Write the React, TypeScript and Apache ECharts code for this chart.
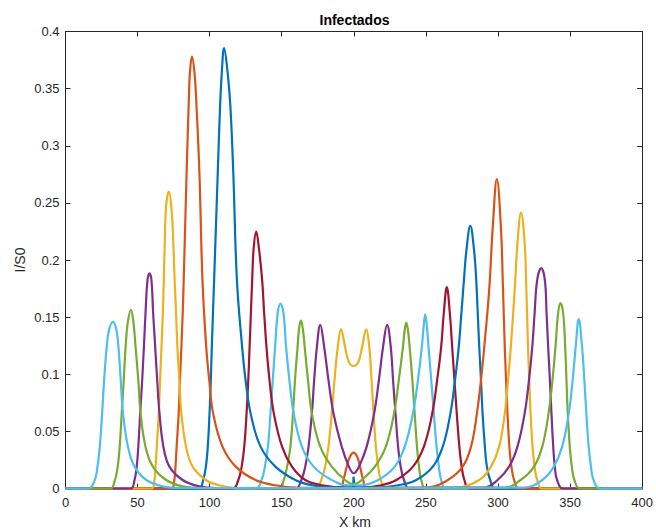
import React, { useEffect, useRef } from "react";
import * as echarts from "echarts";

// MATLAB default colour order
const colorOrder = ["#0072BD", "#D95319", "#EDB120", "#7E2F8E", "#77AC30", "#4DBEEE", "#A2142F"];

const xTicks = [0, 50, 100, 150, 200, 250, 300, 350, 400];
const yTicks = [0, 0.05, 0.1, 0.15, 0.2, 0.25, 0.3, 0.35, 0.4];

// Each snapshot: [x km, I/S0]
const snap1: number[][] = [[0, 0], [199.5, 0], [199.8, 0.0105], [200.2, 0.0105], [200.5, 0], [400, 0]];
const snap2: number[][] = [[0, 0], [190.5, 0], [192.8, 0.0076], [195.1, 0.0193], [197.3, 0.028], [199.8, 0.0315], [202.3, 0.028], [204.3, 0.0193], [206.5, 0.0076], [208.9, 0], [400, 0]];
const snap3: number[][] = [[0, 0], [173.5, 0], [177.4, 0.0076], [180.1, 0.0193], [182.4, 0.0368], [184.7, 0.0659], [186.6, 0.0951], [188.9, 0.1243], [191.1, 0.1395], [193.9, 0.1243], [196.5, 0.111], [199.8, 0.1074], [203.2, 0.111], [205.8, 0.1243], [208.6, 0.1395], [210.7, 0.1243], [212.3, 0.0951], [213.7, 0.0659], [215.3, 0.0368], [216.9, 0.0193], [218.7, 0.0076], [222.6, 0], [400, 0]];
const snap4: number[][] = [[0, 0], [159.4, 0], [163.6, 0.0076], [166.3, 0.0193], [168.6, 0.0368], [170.9, 0.0659], [172.5, 0.0951], [174.4, 0.1243], [176.7, 0.1433], [179.4, 0.1243], [182.4, 0.0951], [185.9, 0.0659], [191.6, 0.0368], [196.6, 0.0193], [200, 0.0135], [203.6, 0.0193], [208.9, 0.0368], [214.1, 0.0659], [217.4, 0.0951], [220.3, 0.1243], [223.1, 0.1433], [225.6, 0.1243], [227.2, 0.0951], [228.9, 0.0659], [230.7, 0.0368], [232.5, 0.0193], [234.8, 0.0076], [238.7, 0], [400, 0]];
const snap5: number[][] = [[0, 0], [148, 0], [151.4, 0.0076], [153.7, 0.0193], [156.0, 0.0368], [157.8, 0.0659], [159.2, 0.0951], [161.0, 0.1243], [162.0, 0.140], [163.3, 0.147], [164.6, 0.140], [165.9, 0.1243], [168.2, 0.0951], [170.9, 0.0659], [176.7, 0.0368], [184.7, 0.0193], [194, 0.0076], [200, 0.004], [205.4, 0.0076], [214.6, 0.0193], [222.2, 0.0368], [227.9, 0.0659], [231.2, 0.0951], [234.1, 0.1243], [235.2, 0.138], [236.4, 0.1453], [237.6, 0.138], [238.7, 0.1243], [240.6, 0.0951], [242.2, 0.0659], [243.8, 0.0368], [245.2, 0.0193], [246.8, 0.0076], [250.2, 0], [400, 0]];
const snap6: number[][] = [[0, 0], [131.8, 0], [136.0, 0.0076], [138.3, 0.0193], [140.4, 0.0368], [142.2, 0.0659], [143.8, 0.0951], [145.4, 0.1243], [147.2, 0.1535], [149.1, 0.162], [151.2, 0.1535], [153.0, 0.1243], [155.3, 0.0951], [158.3, 0.0659], [164.0, 0.0368], [172.1, 0.0193], [184.7, 0.0076], [196, 0.003], [205, 0.003], [216.9, 0.0076], [228.4, 0.0193], [235.3, 0.0368], [241.0, 0.0659], [244.5, 0.0951], [247.2, 0.1243], [248.5, 0.143], [249.5, 0.1526], [250.6, 0.143], [251.8, 0.1243], [253.7, 0.0951], [255.5, 0.0659], [257.4, 0.0368], [259.0, 0.0193], [260.6, 0.0076], [264.0, 0], [400, 0]];
const snap7: number[][] = [[0, 0], [115.8, 0], [119.9, 0.0076], [122.2, 0.0193], [124.0, 0.0368], [125.6, 0.0659], [126.8, 0.0951], [127.7, 0.1243], [128.6, 0.1535], [129.5, 0.1827], [130.5, 0.210], [132.3, 0.225], [134.2, 0.210], [136.4, 0.1827], [137.8, 0.1535], [139.4, 0.1243], [141.5, 0.0951], [144.5, 0.0659], [150.2, 0.0368], [157.1, 0.0193], [166.3, 0.0076], [177.8, 0.003], [195, 0.001], [205, 0.001], [219, 0.003], [229.5, 0.0076], [241.0, 0.0193], [248.6, 0.0368], [254.4, 0.0659], [257.8, 0.0951], [260.6, 0.1243], [262.4, 0.1535], [264.5, 0.1763], [266.6, 0.1535], [268.2, 0.1243], [269.8, 0.0951], [271.4, 0.0659], [273.2, 0.0368], [274.8, 0.0193], [276.7, 0.0076], [280.1, 0], [400, 0]];
const snap8: number[][] = [[0, 0], [92.5, 0], [95.5, 0.0076], [97.4, 0.0193], [98.7, 0.0368], [99.9, 0.0659], [100.8, 0.0951], [101.5, 0.1243], [103.1, 0.1827], [105.6, 0.276], [107.2, 0.334], [108.4, 0.3636], [110.0, 0.3855], [112.5, 0.3636], [114.4, 0.334], [116.4, 0.276], [118.9, 0.1827], [122.5, 0.1243], [124.9, 0.0951], [128.4, 0.0659], [135.3, 0.0368], [145.6, 0.0193], [159.4, 0.0076], [171, 0.003], [185, 0.001], [215, 0.001], [230.7, 0.003], [243.3, 0.0076], [254.8, 0.0193], [261.7, 0.0368], [267.0, 0.0659], [270.2, 0.0951], [272.8, 0.1243], [274.6, 0.1535], [276.4, 0.1827], [278.0, 0.2074], [280.8, 0.230], [283.5, 0.2074], [284.9, 0.1827], [285.9, 0.155], [287.0, 0.1243], [288.2, 0.0951], [289.3, 0.0659], [290.9, 0.0368], [292.3, 0.0193], [294.6, 0.0076], [298.5, 0], [400, 0]];
const snap9: number[][] = [[0, 0], [73.5, 0], [75.5, 0.0076], [76.3, 0.0193], [77.1, 0.0368], [78.5, 0.0659], [79.4, 0.0951], [80.4, 0.1243], [81.3, 0.1535], [82.0, 0.1827], [84.0, 0.276], [85.4, 0.334], [86.3, 0.3636], [87.7, 0.378], [89.5, 0.3636], [90.9, 0.334], [92.9, 0.276], [95.0, 0.1827], [97.6, 0.1243], [99.7, 0.0951], [102.4, 0.0659], [108.9, 0.0368], [118.1, 0.0193], [131.8, 0.0076], [145.6, 0.003], [160, 0.001], [240, 0.0005], [251.4, 0.001], [265.2, 0.0076], [275.5, 0.0193], [281.3, 0.0368], [285.4, 0.0659], [288.2, 0.0951], [290.5, 0.1243], [293.9, 0.174], [296.4, 0.2293], [299.2, 0.2708], [302.0, 0.2293], [303.4, 0.178], [304.7, 0.1243], [305.6, 0.0951], [306.6, 0.0659], [307.9, 0.0368], [309.3, 0.0193], [311.2, 0.0076], [314.6, 0], [400, 0]];
const snap10: number[][] = [[0, 0], [59.5, 0], [61.7, 0.0076], [62.5, 0.0193], [63.3, 0.0368], [64.7, 0.0659], [65.6, 0.0951], [66.6, 0.1243], [67.5, 0.1535], [68.2, 0.1827], [68.9, 0.2177], [69.8, 0.247], [71.6, 0.260], [73.4, 0.247], [74.7, 0.2177], [75.7, 0.1827], [76.7, 0.1535], [77.6, 0.1243], [79.0, 0.0951], [80.4, 0.0659], [83.6, 0.0368], [88.2, 0.0193], [97.4, 0.0076], [106.6, 0.003], [120, 0.0005], [270, 0.001], [287, 0.0076], [295.1, 0.0193], [300.8, 0.0368], [304.7, 0.0659], [307.0, 0.0951], [308.9, 0.1243], [311.6, 0.174], [313.5, 0.2147], [316.0, 0.2416], [318.5, 0.2147], [319.6, 0.178], [320.8, 0.1243], [321.7, 0.0951], [322.6, 0.0659], [324.0, 0.0368], [325.4, 0.0193], [327.2, 0.0076], [330.7, 0], [400, 0]];
const snap11: number[][] = [[0, 0], [45, 0], [47.9, 0.0076], [49.4, 0.0193], [50.5, 0.0368], [51.8, 0.0659], [53.2, 0.0951], [54.4, 0.1243], [55.5, 0.1535], [56.9, 0.1827], [58.3, 0.1885], [59.6, 0.1827], [60.8, 0.1535], [62.2, 0.1243], [63.6, 0.0951], [65.2, 0.0659], [67.9, 0.0368], [72.1, 0.0193], [81.3, 0.0076], [92.8, 0.002], [105, 0.0005], [290.5, 0.001], [299.7, 0.0076], [307.7, 0.0193], [313.5, 0.0368], [318.5, 0.0659], [321.5, 0.0951], [323.8, 0.1243], [325.4, 0.1535], [327.2, 0.1827], [330.0, 0.1929], [332.5, 0.1827], [333.7, 0.1535], [334.8, 0.1243], [336.0, 0.0951], [337.1, 0.0659], [338.3, 0.0368], [339.4, 0.0193], [341.0, 0.0076], [345.2, 0], [400, 0]];
const snap12: number[][] = [[0, 0], [31, 0], [34.3, 0.0076], [36.2, 0.0193], [37.6, 0.0368], [39.0, 0.0659], [40.4, 0.0951], [41.7, 0.1243], [43.1, 0.1447], [45.4, 0.1565], [47.2, 0.1447], [48.6, 0.1243], [50.5, 0.0951], [52.1, 0.0659], [55.5, 0.0368], [60.6, 0.0193], [69.8, 0.0076], [81.3, 0.002], [95, 0.0005], [304.3, 0.001], [315.7, 0.0076], [325.0, 0.0193], [330.7, 0.0368], [335.1, 0.0659], [337.8, 0.0951], [339.9, 0.1243], [341.7, 0.1535], [343.3, 0.1623], [345.2, 0.1535], [346.6, 0.1243], [347.5, 0.0951], [348.4, 0.0659], [349.8, 0.0368], [351.2, 0.0193], [353.0, 0.0076], [357.1, 0], [400, 0]];
const snap13: number[][] = [[0, 0], [16, 0], [20.3, 0.0076], [22.2, 0.0193], [23.8, 0.0368], [25.4, 0.0659], [26.8, 0.0951], [28.6, 0.1243], [30.2, 0.139], [33.0, 0.146], [35.3, 0.139], [36.7, 0.1243], [38.3, 0.0951], [39.9, 0.0659], [43.3, 0.0368], [47.9, 0.0193], [56.0, 0.0076], [67.5, 0.002], [80, 0.0005], [318, 0.001], [330.7, 0.0076], [338.7, 0.0193], [344.5, 0.0368], [349.1, 0.0659], [351.8, 0.0951], [353.9, 0.1243], [356.0, 0.1483], [358.3, 0.1243], [359.9, 0.0951], [361.3, 0.0659], [362.9, 0.0368], [364.5, 0.0193], [366.3, 0.0076], [370.9, 0], [400, 0]];

const snapshots = [snap1, snap2, snap3, snap4, snap5, snap6, snap7, snap8, snap9, snap10, snap11, snap12, snap13];

const FONT = "'Liberation Sans', Arial, Helvetica, sans-serif";
const AXIS_COLOR = "#262626";

export default function App() {
  const ref = useRef<HTMLDivElement>(null);
  useEffect(() => {
    if (!ref.current) return;
    const chart = echarts.init(ref.current, undefined, { renderer: "svg" });
    const tickFmt = (v: number) => String(+Number(v).toFixed(2));
    const baseX = {
      type: "value" as const,
      min: xTicks[0],
      max: xTicks[xTicks.length - 1],
      interval: xTicks[1] - xTicks[0],
      axisLine: { show: true, onZero: false, lineStyle: { color: AXIS_COLOR, width: 1 } },
      axisTick: { show: true, inside: true, length: 5, lineStyle: { color: AXIS_COLOR } },
      splitLine: { show: false },
    };
    const baseY = {
      type: "value" as const,
      min: yTicks[0],
      max: yTicks[yTicks.length - 1],
      interval: yTicks[1] - yTicks[0],
      axisLine: { show: true, onZero: false, lineStyle: { color: AXIS_COLOR, width: 1 } },
      axisTick: { show: true, inside: true, length: 5, lineStyle: { color: AXIS_COLOR } },
      splitLine: { show: false },
    };
    chart.setOption({
      animation: false,
      backgroundColor: "#ffffff",
      textStyle: { fontFamily: FONT },
      grid: { left: 65.5, right: 11, top: 31.5, bottom: 42.3, containLabel: false },
      xAxis: [
        {
          ...baseX,
          position: "bottom",
          axisLabel: { show: true, color: AXIS_COLOR, fontSize: 13, margin: 7, fontFamily: FONT, formatter: tickFmt },
        },
        { ...baseX, position: "top", axisLabel: { show: false } },
      ],
      yAxis: [
        {
          ...baseY,
          position: "left",
          axisLabel: { show: true, color: AXIS_COLOR, fontSize: 13, margin: 6, fontFamily: FONT, formatter: tickFmt },
        },
        { ...baseY, position: "right", axisLabel: { show: false } },
      ],
      graphic: [
        {
          type: "text",
          x: 354.5,
          y: 20,
          style: { text: "Infectados", fontSize: 14, fontWeight: "bold", fill: "#000000", fontFamily: FONT, textAlign: "center", textVerticalAlign: "middle" },
        },
        {
          type: "text",
          x: 355,
          y: 521.5,
          style: { text: "X km", fontSize: 14, fill: AXIS_COLOR, fontFamily: FONT, textAlign: "center", textVerticalAlign: "middle" },
        },
        {
          type: "text",
          x: 20,
          y: 260,
          rotation: Math.PI / 2,
          style: { text: "I/S0", fontSize: 14, fill: AXIS_COLOR, fontFamily: FONT, textAlign: "center", textVerticalAlign: "middle" },
        },
      ],
      series: snapshots.map((data, i) => ({
        type: "line",
        name: "t" + (i + 1),
        data,
        xAxisIndex: 0,
        yAxisIndex: 0,
        showSymbol: false,
        symbol: "none",
        smooth: i === 0 ? false : 0.4,
        silent: true,
        lineStyle: { width: 2.2, color: colorOrder[i % colorOrder.length] },
        itemStyle: { color: colorOrder[i % colorOrder.length] },
      })),
    });
    return () => chart.dispose();
  }, []);
  return <div ref={ref} style={{ position: "absolute", left: 0, top: 0, width: 656, height: 531, background: "#fff" }} />;
}
